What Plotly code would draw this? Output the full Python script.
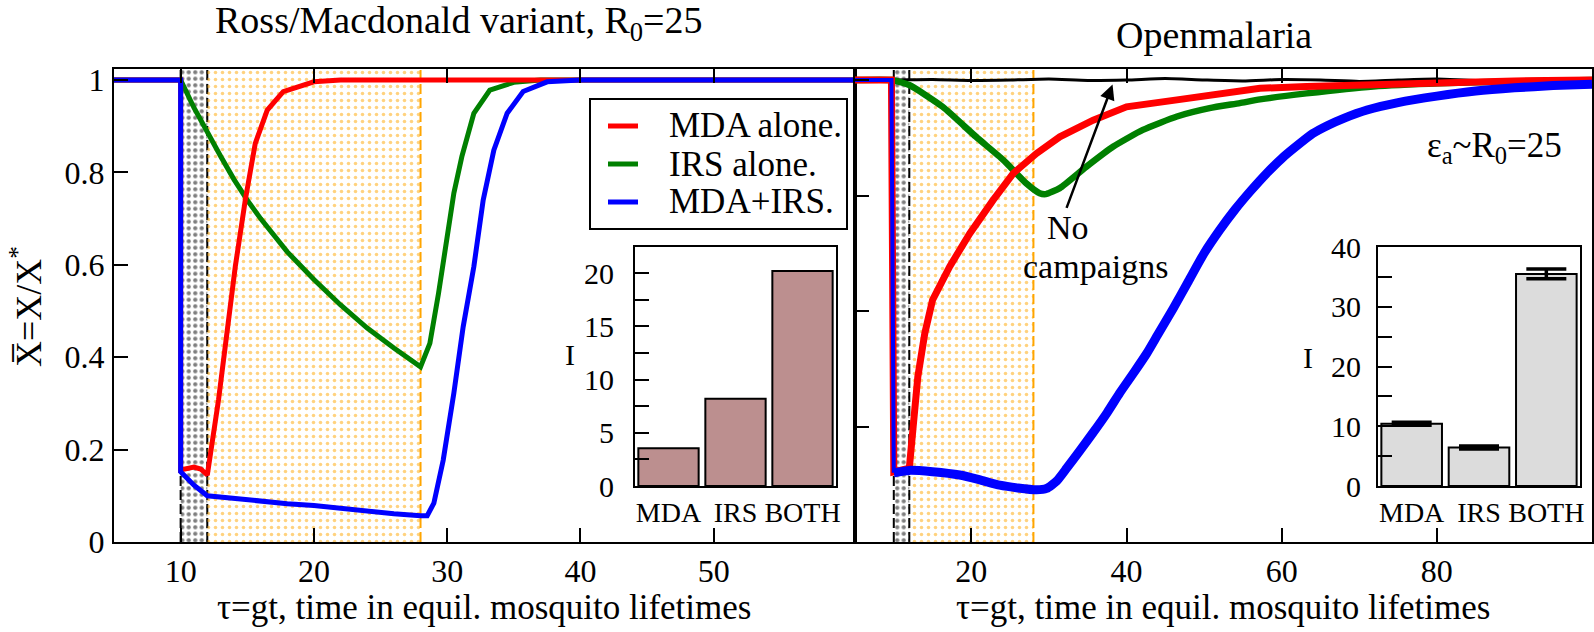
import plotly.graph_objects as go

# ---------------- data ----------------
# Left panel: Ross/Macdonald variant, R0=25
rm_irs_t = [5, 10, 11, 12, 13, 14, 15, 16, 18, 20, 22, 24, 25, 26, 28, 28.7, 29.35, 30, 30.5, 31.1, 32, 33.2, 35, 37, 60.6]
rm_irs_y = [1, 1, 0.94, 0.885, 0.835, 0.785, 0.74, 0.70, 0.628, 0.568, 0.513, 0.463, 0.441, 0.42, 0.379, 0.43, 0.538, 0.661, 0.755, 0.834, 0.928, 0.978, 0.995, 1, 1]

rm_mda_t = [5, 10, 10, 10.5, 11, 11.5, 12, 12.84, 13.5, 14.1, 14.85, 15.6, 16.5, 17.7, 20, 22, 60.6]
rm_mda_y = [1, 1, 0.156, 0.16, 0.162, 0.158, 0.145, 0.307, 0.459, 0.596, 0.74, 0.863, 0.935, 0.975, 0.996, 1, 1]

rm_both_t = [5, 10, 10, 11, 12, 14, 16, 18, 20, 22, 24, 25, 26, 28, 28.5, 29, 29.7, 30.5, 31.2, 32, 32.7, 33.5, 34.5, 35.7, 37.5, 40, 60.6]
rm_both_y = [1, 1, 0.152, 0.123, 0.10, 0.094, 0.088, 0.083, 0.079, 0.073, 0.066, 0.063, 0.061, 0.057, 0.057, 0.084, 0.177, 0.322, 0.466, 0.596, 0.74, 0.848, 0.928, 0.975, 0.996, 1, 1]

# Right panel: Openmalaria
om_none_t = [5, 10, 15, 20, 25, 30, 35, 40, 45, 50, 55, 60, 65, 70, 75, 80, 85, 90, 95, 100]
om_none_y = [1.0, 1.0, 1.001, 0.999, 1.0, 1.002, 0.999, 1.0, 1.003, 1.0, 0.998, 1.001, 1.0, 0.997, 1.0, 1.002, 0.999, 1.0, 1.001, 1.0]

om_irs_t = [5, 9.7, 12, 16.3, 20.6, 24.1, 27.1, 28.8, 29.6, 31.4, 34.8, 38.3, 42.1, 46.5, 50.7, 54.6, 57.2, 63.2, 71.8, 80.4, 90, 100]
om_irs_y = [1, 1, 0.989, 0.942, 0.877, 0.827, 0.776, 0.755, 0.753, 0.766, 0.812, 0.856, 0.892, 0.921, 0.939, 0.95, 0.958, 0.971, 0.986, 0.993, 0.997, 1.0]

om_mda_t = [5, 9.7, 10, 12, 12.5, 13.1, 14, 15, 17.2, 19.8, 22.8, 25.4, 28.4, 31.4, 35.7, 40, 46.5, 52.9, 57.2, 63.2, 71.8, 80, 90, 100]
om_mda_y = [1, 1, 0.152, 0.16, 0.25, 0.358, 0.452, 0.524, 0.596, 0.668, 0.74, 0.798, 0.841, 0.877, 0.913, 0.942, 0.957, 0.971, 0.982, 0.986, 0.991, 0.995, 0.998, 1.0]

om_both_t = [5, 9.7, 10, 12, 15, 18.5, 21, 23.65, 26, 28.4, 29.7, 31, 32.3, 34, 35.7, 37.5, 39.1, 41, 42.6, 44,
             46, 48, 50, 52, 54, 56, 58, 60, 62, 64, 66, 68, 71, 75, 80, 85, 90, 95, 100]
om_both_y = [1, 1, 0.15, 0.155, 0.152, 0.145, 0.135, 0.123, 0.117, 0.113, 0.116, 0.132, 0.16, 0.198, 0.237, 0.28, 0.322, 0.368, 0.408, 0.448,
             0.505, 0.565, 0.625, 0.675, 0.72, 0.76, 0.797, 0.83, 0.858, 0.884, 0.902, 0.917, 0.935, 0.951, 0.965, 0.976, 0.983, 0.988, 0.991]

# campaign windows (shaded bands)
band_black = [10, 12]
band_orange = [12, 28]

# insets
inset_labels = ["MDA", "IRS", "BOTH"]
rm_impact = [3.55, 8.2, 20.2]
om_impact = [10.4, 6.45, 35.5]
om_impact_err = [0.25, 0.25, 0.8]

series_names = ["MDA alone.", "IRS alone.", "MDA+IRS."]
series_colors = ["#ff0000", "#008000", "#0000ff"]

# ---------------- layout helpers ----------------
W, H = 1594, 632
FONT = "Liberation Serif"


def fx(p):
    return p / W


def fy(p):
    return 1 - p / H


YMAX = 1.0238
L_RANGE = [5, 60.6]
R_RANGE = [5, 100]

fig = go.Figure()


def add_band(xr, color, size, solidity, xa, ya):
    fig.add_trace(go.Scatter(
        x=[xr[0], xr[1], xr[1], xr[0], xr[0]],
        y=[0, 0, YMAX, YMAX, 0],
        mode="lines", line=dict(width=0), fill="toself",
        fillcolor="rgba(0,0,0,0)",
        fillpattern=dict(shape=".", fgcolor=color, bgcolor="rgba(0,0,0,0)",
                         size=size, solidity=solidity, fillmode="overlay"),
        xaxis=xa, yaxis=ya, hoverinfo="skip", showlegend=False))


for xa, ya in (("x", "y"), ("x2", "y2")):
    add_band(band_black, "black", 6.5, 0.33, xa, ya)
    add_band(band_orange, "#ffa500", 7, 0.2, xa, ya)

# left panel curves
for t, y, name, col in ((rm_irs_t, rm_irs_y, series_names[1], series_colors[1]),
                        (rm_mda_t, rm_mda_y, series_names[0], series_colors[0]),
                        (rm_both_t, rm_both_y, series_names[2], series_colors[2])):
    fig.add_trace(go.Scatter(x=t, y=y, mode="lines", name=name,
                             line=dict(color=col, width=5), xaxis="x", yaxis="y", showlegend=False))

# right panel curves
fig.add_trace(go.Scatter(x=om_none_t, y=om_none_y, mode="lines", name="No campaigns",
                         line=dict(color="black", width=3, shape="spline", smoothing=0.6),
                         xaxis="x2", yaxis="y2", showlegend=False))
fig.add_trace(go.Scatter(x=om_irs_t, y=om_irs_y, mode="lines", name=series_names[1],
                         line=dict(color=series_colors[1], width=6.5, shape="spline", smoothing=0.5),
                         xaxis="x2", yaxis="y2", showlegend=False))
fig.add_trace(go.Scatter(x=om_mda_t, y=om_mda_y, mode="lines", name=series_names[0],
                         line=dict(color=series_colors[0], width=7),
                         xaxis="x2", yaxis="y2", showlegend=False))
# MDA+IRS: thin before the campaign starts, thick bundle of runs afterwards
fig.add_trace(go.Scatter(x=om_both_t[:3], y=om_both_y[:3], mode="lines", name=series_names[2],
                         line=dict(color=series_colors[2], width=4),
                         xaxis="x2", yaxis="y2", showlegend=False))
fig.add_trace(go.Scatter(x=om_both_t[2:], y=om_both_y[2:], mode="lines", name=series_names[2],
                         line=dict(color=series_colors[2], width=9, shape="spline", smoothing=0.5),
                         xaxis="x2", yaxis="y2", showlegend=False))

# insets
fig.add_trace(go.Bar(x=[0, 1, 2], y=rm_impact, width=0.9,
                     marker=dict(color="#bc8f8f", line=dict(color="black", width=2)),
                     xaxis="x3", yaxis="y3", showlegend=False))
fig.add_trace(go.Bar(x=[0, 1, 2], y=om_impact, width=0.9,
                     marker=dict(color="#dcdcdc", line=dict(color="black", width=2)),
                     error_y=dict(type="data", array=om_impact_err, visible=True,
                                  color="black", thickness=3.5, width=20),
                     xaxis="x4", yaxis="y4", showlegend=False))


def main_font():
    return dict(family=FONT, size=32, color="black")


def inset_font(size=30):
    return dict(family=FONT, size=size, color="black")


def axis(**kw):
    base = dict(showline=True, linewidth=2, linecolor="black", ticks="inside",
                ticklen=14, tickwidth=2, tickcolor="black", showgrid=False,
                zeroline=False, automargin=False)
    base.update(kw)
    return base


minor_ticks = dict(ticks="inside", ticklen=14, tickwidth=2, tickcolor="black", showgrid=False)

main_ydom = [fy(542), fy(69)]
inset_ydom = [fy(486), fy(247)]

fig.update_layout(
    width=W, height=H, margin=dict(l=0, r=0, t=0, b=0, autoexpand=False),
    paper_bgcolor="white", plot_bgcolor="white", showlegend=False,
    font=dict(family=FONT, size=30, color="black"),
    xaxis=axis(domain=[fx(114), fx(855)], range=L_RANGE, anchor="y",
               tickvals=[10, 20, 30, 40, 50], mirror="ticks", tickfont=main_font(),
               ticklabelstandoff=0),
    yaxis=axis(domain=main_ydom, range=[0, YMAX], anchor="x",
               tickvals=[0, 0.2, 0.4, 0.6, 0.8, 1],
               ticktext=["0", "0.2", "0.4", "0.6", "0.8", "1"], mirror=True,
               tickfont=main_font(), ticklabelstandoff=1),
    xaxis2=axis(domain=[fx(855), fx(1592)], range=R_RANGE, anchor="y2",
                tickvals=[20, 40, 60, 80], mirror="ticks", tickfont=main_font(),
                ticklabelstandoff=0),
    yaxis2=axis(domain=main_ydom, range=[0, YMAX], anchor="x2",
                tickvals=[0.25, 0.5, 0.75, 1], showticklabels=False, mirror=True),
    xaxis3=axis(domain=[fx(635), fx(836)], range=[-0.5, 2.5], anchor="y3",
                tickvals=[0, 1, 2], ticktext=inset_labels, ticks="", mirror=True,
                tickfont=inset_font(28)),
    yaxis3=axis(domain=inset_ydom, range=[0, 22.45], anchor="x3",
                tickvals=[0, 5, 10, 15, 20], minor=dict(minor_ticks, tickvals=[2.5, 7.5, 12.5, 17.5]),
                mirror=True, tickfont=inset_font(), ticklabelstandoff=13),
    xaxis4=axis(domain=[fx(1378), fx(1580)], range=[-0.5, 2.5], anchor="y4",
                tickvals=[0, 1, 2], ticktext=inset_labels, ticks="", mirror=True,
                tickfont=inset_font(28)),
    yaxis4=axis(domain=inset_ydom, range=[0, 40], anchor="x4",
                tickvals=[0, 10, 20, 30, 40], minor=dict(minor_ticks, tickvals=[5, 15, 25, 35]),
                mirror=True, tickfont=inset_font(), ticklabelstandoff=9),
)

shapes = []
for xr, yr in (("x", "y domain"), ("x2", "y2 domain")):
    for xv, col in ((band_black[0], "black"), (band_black[1], "black"), (band_orange[1], "#ffa500")):
        shapes.append(dict(type="line", xref=xr, yref=yr, x0=xv, x1=xv, y0=0, y1=1,
                           line=dict(color=col, width=2, dash="10px,4px"), layer="below"))

# legend box (manual)
shapes.append(dict(type="rect", xref="paper", yref="paper", x0=fx(590), x1=fx(847),
                   y0=fy(229), y1=fy(99), line=dict(color="black", width=2),
                   fillcolor="white", layer="above"))
legend_rows = [126, 164, 202]
for row, col in zip(legend_rows, series_colors):
    shapes.append(dict(type="line", xref="paper", yref="paper", x0=fx(608), x1=fx(638),
                       y0=fy(row), y1=fy(row), line=dict(color=col, width=5), layer="above"))
fig.update_layout(shapes=shapes)

ann = []


def text(s, x, y, size, xanchor="center", yanchor="middle", angle=0):
    ann.append(dict(text=s, x=fx(x), y=fy(y), xref="paper", yref="paper",
                    xanchor=xanchor, yanchor=yanchor, showarrow=False, textangle=angle,
                    font=dict(family=FONT, size=size, color="black")))


for row, name in zip(legend_rows, series_names):
    text(name, 667, row, 35, xanchor="left")

text("Ross/Macdonald variant, R<sub>0</sub>=25", 459, -3, 38, yanchor="top")
text("Openmalaria", 1214, 35, 38)
text("\u03c4=gt, time in equil. mosquito lifetimes", 484, 607, 35)
text("\u03c4=gt, time in equil. mosquito lifetimes", 1223, 607, 35)
text("X\u0305=X/X<sup>*</sup>", 27, 307, 36, angle=-90)
text("I", 570, 354, 30)
text("I", 1308, 357, 30)
text("No", 1068, 228, 34)
text("campaigns", 1095, 266, 34)
text("\u03b5<sub>a</sub>~R<sub>0</sub>=25", 1425, 147, 35, xanchor="left")

ann.append(dict(x=38.2, y=0.99, xref="x2", yref="y2", ax=32.2, ay=0.72,
                axref="x2", ayref="y2", text="", showarrow=True, arrowhead=2,
                arrowsize=1.2, arrowwidth=2.5, arrowcolor="black"))
fig.update_layout(annotations=ann)

fig.write_html("out.html", config={"displayModeBar": False},
               post_script="document.body.style.margin='0px';document.body.style.overflow='hidden';")
